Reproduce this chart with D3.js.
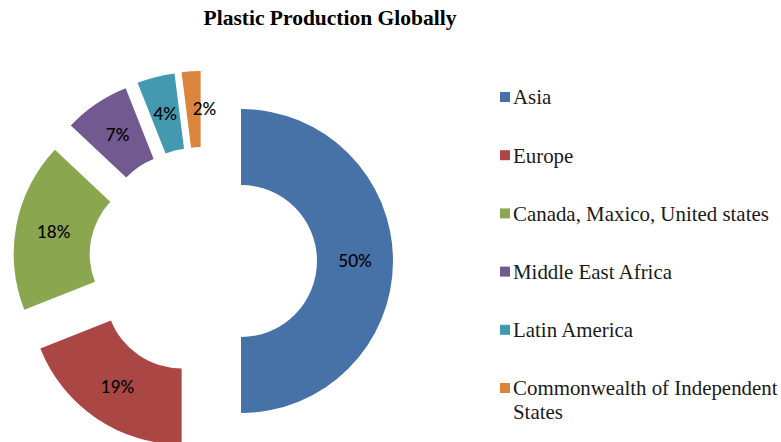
<!DOCTYPE html>
<html><head><meta charset="utf-8">
<script src="https://cdn.jsdelivr.net/npm/d3@7"></script>
<style>
body{margin:0;background:#fff;}
svg{display:block;}
</style></head>
<body>
<svg id="chart" width="781" height="442"></svg>
<script>
const categories = ["Asia","Europe","Canada, Maxico, United states","Middle East Africa","Latin America","Commonwealth of Independent States"];
const values = [50,19,18,7,4,2];
const labels = ["50%","19%","18%","7%","4%","2%"];
const colors = ["#4672A8","#AA4744","#8AA64F","#72598F","#4299B0","#DB843D"];
const legendLines = [["Asia"],["Europe"],["Canada, Maxico, United states"],["Middle East Africa"],["Latin America"],["Commonwealth of Independent","States"]];

const svg = d3.select("#chart");
const cx = 203, cy = 261, R = 152, r = 76, explode = 38;

svg.append("text").attr("x",330).attr("y",25).attr("text-anchor","middle")
  .attr("font-family","Liberation Serif").attr("font-weight","bold").attr("font-size",21.5)
  .attr("fill","#000").text("Plastic Production Globally");

const pie = d3.pie().sort(null).value(d=>d);
const arcs = pie(values);
const arc = d3.arc().innerRadius(r).outerRadius(R);
const g = svg.append("g").attr("transform",`translate(${cx},${cy})`);
const labelDx = [0,0,0,0,0,11];
const sg = g.selectAll("g.slice").data(arcs).join("g").attr("class","slice")
  .attr("transform",d=>{const a=(d.startAngle+d.endAngle)/2;return `translate(${explode*Math.sin(a)},${-explode*Math.cos(a)})`;});
sg.append("path").attr("d",arc).attr("fill",(d,i)=>colors[i]);
sg.append("text").attr("transform",d=>{const c=arc.centroid(d);return `translate(${c[0]},${c[1]})`;})
  .attr("dx",(d,i)=>labelDx[i])
  .attr("text-anchor","middle").attr("dy","0.35em")
  .attr("font-family","Lato").attr("font-size",17).attr("font-weight",500).attr("fill","#000")
  .text((d,i)=>labels[i]);

const lg = svg.append("g");
const items = lg.selectAll("g").data(categories).join("g")
  .attr("transform",(d,i)=>`translate(500,${97+i*58.2})`);
items.append("rect").attr("x",0).attr("y",-5).attr("width",10).attr("height",10).attr("fill",(d,i)=>colors[i]);
items.append("text").attr("x",13).attr("y",0)
  .attr("font-family","Liberation Serif").attr("font-size",20.9).attr("fill","#1a1a1a")
  .selectAll("tspan").data((d,i)=>legendLines[i]).join("tspan")
  .attr("x",13).attr("y",(d,j)=>j*24).attr("dy","0.35em").text(d=>d);
</script>
</body></html>
